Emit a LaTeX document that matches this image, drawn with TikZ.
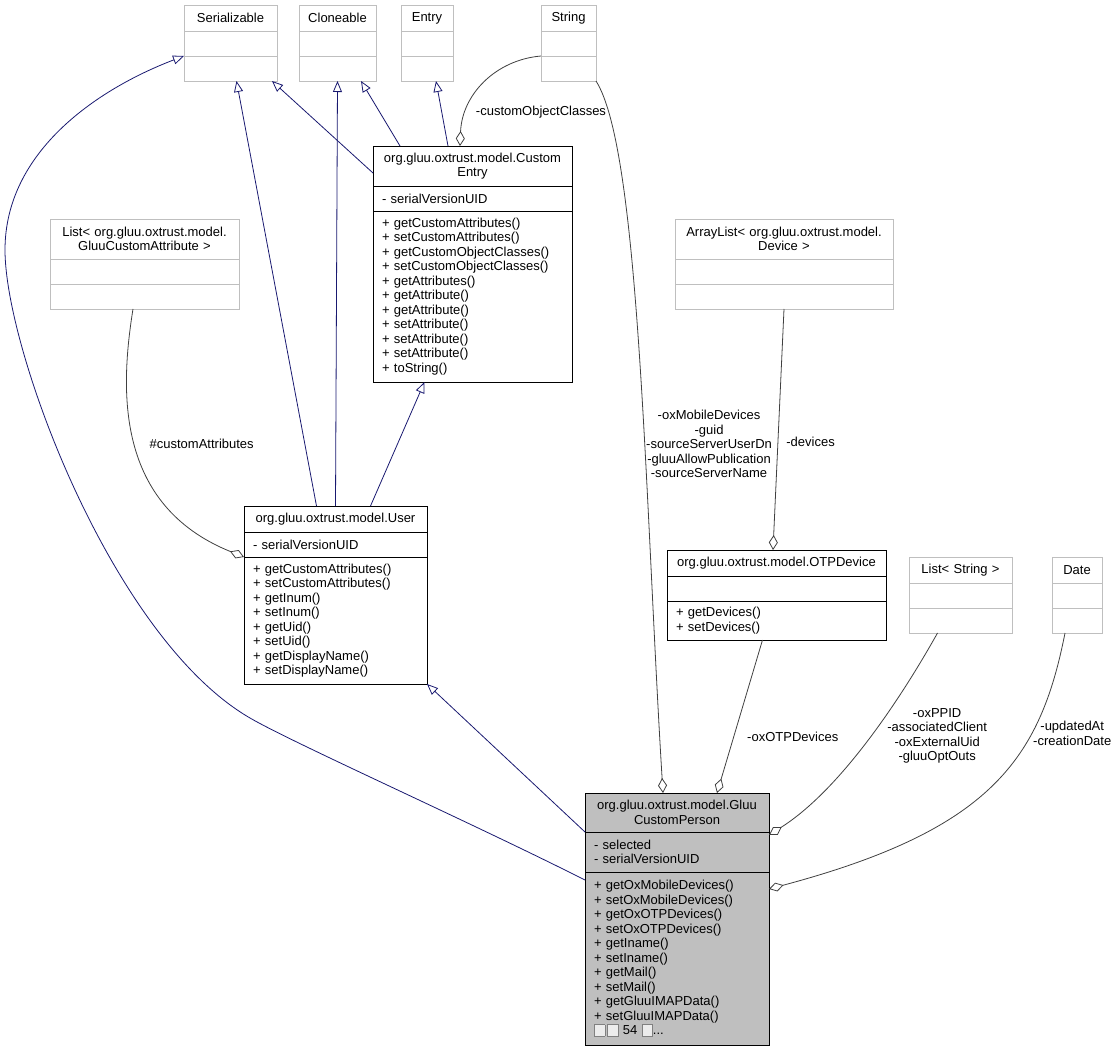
\documentclass[tikz,border=0pt]{standalone}
\usepackage{fontspec}
\setmainfont{Liberation Sans}
\usetikzlibrary{positioning,arrows.meta}

\definecolor{inhblue}{HTML}{191970}
\definecolor{aggrey}{HTML}{404040}
\definecolor{boxgrey}{HTML}{BFBFBF}

\newcommand{\tofu}{{\setlength{\fboxsep}{0pt}\setlength{\fboxrule}{0.6pt}\raisebox{-1pt}{\fcolorbox{gray}{white!85!gray}{\rule{0pt}{11pt}\hspace{10pt}}}}}

\tikzset{
  classpart/.style={draw, rectangle, outer sep=0pt, inner ysep=2pt, line width=0.9pt,
    font=\fontsize{13}{14.5}\selectfont},
  classtitle/.style={classpart, align=center, inner xsep=2pt},
  classmembers/.style={classpart, align=left, inner xsep=9pt},
  inherit/.style={draw=inhblue, line width=0.8pt, -{Triangle[open,length=11pt,width=9pt]}},
  aggr/.style={draw=aggrey, line width=0.8pt, -{Diamond[open,length=15pt,width=9pt]}},
  lbl/.style={font=\fontsize{13}{14.5}\selectfont, align=center, inner sep=0pt},
}

\begin{document}
\begin{tikzpicture}[x=1pt,y=1pt]
  \useasboundingbox (0,0) rectangle (1117,-1051);

  % library classes
  \begin{scope}[every node/.append style={draw=boxgrey}]
    \node[classtitle, text width=89pt, minimum height=26pt, anchor=north west] (serT) at (184,-5) {Serializable};
    \node[classmembers, text width=75pt, minimum height=25pt, below=0pt of serT] (serA) {};
    \node[classmembers, text width=75pt, minimum height=25pt, below=0pt of serA] (serM) {};

    \node[classtitle, text width=73pt, minimum height=26pt, anchor=north west] (cloT) at (299,-5) {Cloneable};
    \node[classmembers, text width=59pt, minimum height=25pt, below=0pt of cloT] (cloA) {};
    \node[classmembers, text width=59pt, minimum height=25pt, below=0pt of cloA] (cloM) {};

    \node[classtitle, text width=48pt, minimum height=26pt, anchor=north west] (entT) at (401,-5) {Entry};
    \node[classmembers, text width=34pt, minimum height=25pt, below=0pt of entT] (entA) {};
    \node[classmembers, text width=34pt, minimum height=25pt, below=0pt of entA] (entM) {};

    \node[classtitle, text width=51pt, minimum height=26pt, anchor=north west] (strT) at (541,-5) {String};
    \node[classmembers, text width=37pt, minimum height=25pt, below=0pt of strT] (strA) {};
    \node[classmembers, text width=37pt, minimum height=25pt, below=0pt of strA] (strM) {};

    \node[classtitle, text width=185pt, minimum height=40pt, anchor=north west] (lgaT) at (50,-219) {List< org.gluu.oxtrust.model.\\GluuCustomAttribute >};
    \node[classmembers, text width=171pt, minimum height=25pt, below=0pt of lgaT] (lgaA) {};
    \node[classmembers, text width=171pt, minimum height=25pt, below=0pt of lgaA] (lgaM) {};

    \node[classtitle, text width=214pt, minimum height=40pt, anchor=north west] (alT) at (675,-219) {ArrayList< org.gluu.oxtrust.model.\\Device >};
    \node[classmembers, text width=200pt, minimum height=25pt, below=0pt of alT] (alA) {};
    \node[classmembers, text width=200pt, minimum height=25pt, below=0pt of alA] (alM) {};

    \node[classtitle, text width=99pt, minimum height=26pt, anchor=north west] (lsT) at (909,-557) {List< String >};
    \node[classmembers, text width=85pt, minimum height=25pt, below=0pt of lsT] (lsA) {};
    \node[classmembers, text width=85pt, minimum height=25pt, below=0pt of lsA] (lsM) {};

    \node[classtitle, text width=46pt, minimum height=26pt, anchor=north west] (dateT) at (1052,-557) {Date};
    \node[classmembers, text width=32pt, minimum height=25pt, below=0pt of dateT] (dateA) {};
    \node[classmembers, text width=32pt, minimum height=25pt, below=0pt of dateA] (dateM) {};
  \end{scope}

  % model classes
  \begin{scope}[every node/.append style={draw=black}]
    \node[classtitle, text width=195pt, minimum height=40pt, anchor=north west] (ceT) at (373,-146) {org.gluu.oxtrust.model.Custom\\Entry};
    \node[classmembers, text width=181pt, minimum height=25pt, below=0pt of ceT] (ceA) {- serialVersionUID};
    \node[classmembers, text width=181pt, minimum height=171pt, below=0pt of ceA] (ceM) {+ getCustomAttributes()\\+ setCustomAttributes()\\+ getCustomObjectClasses()\\+ setCustomObjectClasses()\\+ getAttributes()\\+ getAttribute()\\+ getAttribute()\\+ setAttribute()\\+ setAttribute()\\+ setAttribute()\\+ toString()};

    \node[classtitle, text width=179pt, minimum height=26pt, anchor=north west] (userT) at (244,-506) {org.gluu.oxtrust.model.User};
    \node[classmembers, text width=165pt, minimum height=25pt, below=0pt of userT] (userA) {- serialVersionUID};
    \node[classmembers, text width=165pt, minimum height=127pt, below=0pt of userA] (userM) {+ getCustomAttributes()\\+ setCustomAttributes()\\+ getInum()\\+ setInum()\\+ getUid()\\+ setUid()\\+ getDisplayName()\\+ setDisplayName()};

    \node[classtitle, text width=215pt, minimum height=26pt, anchor=north west] (otpT) at (667,-550) {org.gluu.oxtrust.model.OTPDevice};
    \node[classmembers, text width=201pt, minimum height=25pt, below=0pt of otpT] (otpA) {};
    \node[classmembers, text width=201pt, minimum height=39pt, below=0pt of otpA] (otpM) {+ getDevices()\\+ setDevices()};

    \node[classtitle, fill=boxgrey, text width=180pt, minimum height=39pt, anchor=north west] (gcpT) at (585,-793) {org.gluu.oxtrust.model.Gluu\\CustomPerson};
    \node[classmembers, fill=boxgrey, text width=166pt, minimum height=40pt, below=0pt of gcpT] (gcpA) {- selected\\- serialVersionUID};
    \node[classmembers, fill=boxgrey, text width=166pt, minimum height=173pt, below=0pt of gcpA] (gcpM) {+ getOxMobileDevices()\\+ setOxMobileDevices()\\+ getOxOTPDevices()\\+ setOxOTPDevices()\\+ getIname()\\+ setIname()\\+ getMail()\\+ setMail()\\+ getGluuIMAPData()\\+ setGluuIMAPData()\\\tofu\,\tofu{} 54 \tofu...};
  \end{scope}

  % inheritance
  \path ([yshift=-7pt]ceT.west) edge[inherit] ([xshift=-5pt]serM.south east);
  \path ([xshift=27pt]ceT.north west) edge[inherit] ([xshift=-15pt]cloM.south east);
  \path ([xshift=75pt]ceT.north west) edge[inherit] ([xshift=9pt]entM.south);
  \path ([xshift=-19pt]userT.north) edge[inherit] ([xshift=6pt]serM.south);
  \path (userT.north) edge[inherit] (cloM.south);
  \path ([xshift=35pt]userT.north) edge[inherit] ([xshift=-48pt]ceM.south);
  \path (gcpT.south west) edge[inherit] (userM.south east);
  \draw[inherit] ([yshift=-8pt]gcpM.north west) .. controls (470,-822) and (293,-743) .. (250,-718)
    .. controls (112,-638) and (5,-350) .. (5,-250)
    .. controls (5,-150) and (100,-88) .. (serM.north west);

  % aggregation
  \draw[aggr] (strM.north west) .. controls (495,-60) and (462,-95) .. ([xshift=87pt]ceT.north west)
    node[lbl, pos=0.76, right=9pt] {-customObjectClasses};
  \draw[aggr] ([xshift=-11.5pt]lgaM.south) .. controls (120,-390) and (115,-505) .. (userA.south west)
    node[lbl, pos=0.5, right=14pt] {\#customAttributes};
  \draw[aggr] (strM.south east) .. controls (640,-150) and (645,-500) .. ([xshift=-14pt]gcpT.north)
    node[lbl, pos=0.61, right=1pt] {-oxMobileDevices\\-guid\\-sourceServerUserDn\\-gluuAllowPublication\\-sourceServerName};
  \path (alM.south) edge[aggr] node[lbl, pos=0.55, right=8pt] {-devices} ([xshift=-3.5pt]otpT.north);
  \path ([xshift=-14pt]otpM.south) edge[aggr] node[lbl, pos=0.63, right=13pt] {-oxOTPDevices} ([xshift=40pt]gcpT.north);
  \draw[aggr] ([xshift=-23pt]lsM.south) .. controls (900,-700) and (840,-790) .. ([yshift=-3pt]gcpA.north east)
    node[lbl, pos=0.47, right=16pt] {-oxPPID\\-associatedClient\\-oxExternalUid\\-gluuOptOuts};
  \draw[aggr] ([xshift=-12pt]dateM.south) .. controls (1040,-760) and (990,-830) .. ([yshift=-17pt]gcpM.north east)
    node[lbl, pos=0.3, right=1pt] {-updatedAt\\-creationDate};

\end{tikzpicture}
\end{document}
